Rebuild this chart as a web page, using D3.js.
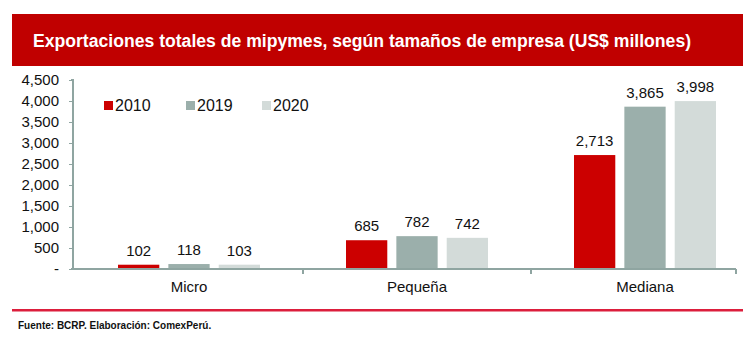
<!DOCTYPE html>
<html>
<head>
  <meta charset="utf-8">
  <style>
    body { margin: 0; background: #fff; }
    svg text { font-family: "Liberation Sans", Arial, sans-serif; }
  </style>
</head>
<body>
  <script src="https://d3js.org/d3.v7.min.js"></script>
  <script>
    // exports of micro, small and medium firms, US$ millions
    const categories = ["Micro", "Pequeña", "Mediana"];
    const years = ["2010", "2019", "2020"];
    const v2010 = [102, 685, 2713];
    const v2019 = [118, 782, 3865];
    const v2020 = [103, 742, 3998];
    const yTicks = [0, 500, 1000, 1500, 2000, 2500, 3000, 3500, 4000, 4500];
    const colors = ["#cc0000", "#9bafab", "#d3dbd9"];

    const w = 754;
    const h = 341;
    const series = [v2010, v2019, v2020];

    const svg = d3.select("body")
      .append("svg")
      .attr("width", w)
      .attr("height", h);

    // title banner
    svg.append("rect")
      .attr("x", 12).attr("y", 14)
      .attr("width", 731).attr("height", 52)
      .attr("fill", "#c00000");
    svg.append("text")
      .attr("x", 33).attr("y", 47)
      .attr("fill", "#fff")
      .attr("font-size", "17.6px")
      .attr("font-weight", "bold")
      .text("Exportaciones totales de mipymes, según tamaños de empresa (US$ millones)");

    const x0 = d3.scaleBand()
      .domain(categories)
      .range([75, 759]);

    const x1 = d3.scaleBand()
      .domain(years)
      .range([0, 142])
      .paddingInner(0.18);

    const y = d3.scaleLinear()
      .domain([0, 4500])
      .range([269, 80]);

    // y axis
    const yAxis = d3.axisLeft(y)
      .tickValues(yTicks)
      .tickSize(4)
      .tickFormat((d) => d === 0 ? "-" : d3.format(",")(d));
    const gy = svg.append("g")
      .attr("transform", "translate(73,0)")
      .call(yAxis);
    gy.select(".domain").attr("stroke", "#8fa5a1").attr("stroke-width", 2)
      .attr("d", "M-2,80H0V269");
    gy.selectAll(".tick line").attr("stroke", "#8fa5a1");
    gy.selectAll(".tick text")
      .attr("x", -14)
      .attr("font-size", "15px")
      .attr("fill", "#111");

    // bars
    const groups = svg.selectAll("g.cat")
      .data(categories)
      .enter()
      .append("g")
      .attr("class", "cat")
      .attr("transform", (d) => "translate(" + (x0(d) + x0.bandwidth() / 2 - 71) + ",0)");

    const cells = (d, i) => years.map((yr, j) => ({ yr: yr, v: series[j][i], j: j }));

    groups.selectAll("rect")
      .data(cells)
      .enter()
      .append("rect")
      .attr("x", (d) => x1(d.yr))
      .attr("y", (d) => y(d.v))
      .attr("width", x1.bandwidth())
      .attr("height", (d) => y(0) - y(d.v))
      .attr("fill", (d) => colors[d.j]);

    groups.selectAll("text")
      .data(cells)
      .enter()
      .append("text")
      .attr("x", (d) => x1(d.yr) + x1.bandwidth() / 2)
      .attr("y", (d) => y(d.v) - 9)
      .attr("text-anchor", "middle")
      .attr("font-size", "15px")
      .attr("fill", "#111")
      .text((d) => d3.format(",")(d.v));

    // x axis with separators between categories
    const gx = svg.append("g");
    gx.append("path")
      .attr("d", "M71,269H736")
      .attr("stroke", "#8fa5a1")
      .attr("stroke-width", 2)
      .attr("fill", "none");
    const seps = categories.slice(1).map((c) => x0(c)).concat([736]);
    gx.selectAll("line.sep")
      .data(seps)
      .enter()
      .append("line")
      .attr("x1", (d) => d).attr("x2", (d) => d)
      .attr("y1", 269).attr("y2", 274)
      .attr("stroke", "#8fa5a1")
      .attr("stroke-width", 2);
    gx.selectAll("text")
      .data(categories)
      .enter()
      .append("text")
      .attr("x", (d) => x0(d) + x0.bandwidth() / 2)
      .attr("y", 292)
      .attr("text-anchor", "middle")
      .attr("font-size", "15px")
      .attr("fill", "#111")
      .text((d) => d);

    // legend
    const legendX = [104, 186, 262];
    const legend = svg.selectAll("g.legend")
      .data(years)
      .enter()
      .append("g")
      .attr("class", "legend")
      .attr("transform", (d, i) => "translate(" + legendX[i] + ",101)");
    legend.append("rect")
      .attr("width", 9).attr("height", 9)
      .attr("fill", (d, i) => colors[i]);
    legend.append("text")
      .attr("x", 11).attr("y", 10)
      .attr("font-size", "16px")
      .attr("fill", "#111")
      .text((d) => d);

    // footer
    svg.append("rect")
      .attr("x", 12).attr("y", 309)
      .attr("width", 731).attr("height", 2.5)
      .attr("fill", "#dc1e3c");
    svg.append("text")
      .attr("x", 18).attr("y", 329)
      .attr("font-size", "10px")
      .attr("font-weight", "bold")
      .attr("fill", "#111")
      .text("Fuente: BCRP. Elaboración: ComexPerú.");
  </script>
</body>
</html>
